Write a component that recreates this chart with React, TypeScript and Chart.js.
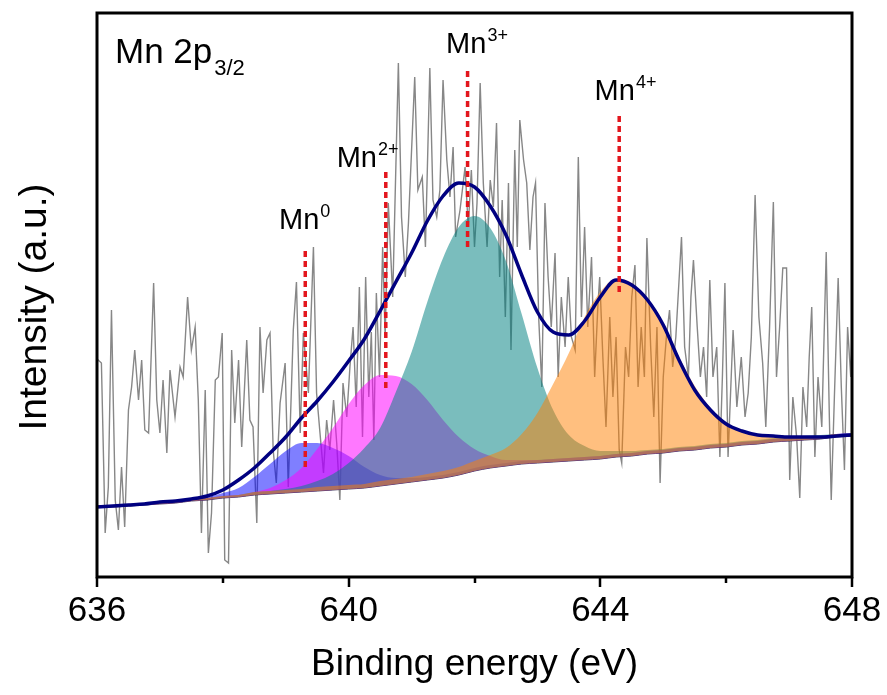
import React, { useEffect, useRef } from 'react';
import { Chart, registerables } from 'chart.js';

Chart.register(...registerables);

const FONT = '"Liberation Sans", Arial, Helvetica, sans-serif';

// Energy grid (eV) on which the fitted curves were read
const energyGrid = [
  636, 636.25, 636.5, 636.75, 637, 637.25, 637.5, 637.75, 638, 638.25,
  638.5, 638.75, 639, 639.25, 639.5, 639.75, 640, 640.25, 640.5, 640.75,
  641, 641.25, 641.5, 641.75, 642, 642.25, 642.5, 642.75, 643, 643.25,
  643.5, 643.75, 644, 644.25, 644.5, 644.75, 645, 645.25, 645.5, 645.75,
  646, 646.25, 646.5, 646.75, 647, 647.25, 647.5, 647.75, 648,
];

// Shirley-type background
const background = [
  70, 70, 71, 72, 73, 74, 76, 77, 79, 80,
  82, 83, 84, 85, 86, 87, 88, 89, 91, 93,
  95, 97, 99, 102, 106, 109, 111, 113, 114, 115,
  116, 117, 118, 120, 121, 123, 124, 126, 127, 129,
  130, 132, 133, 135, 136, 137, 138, 140, 141,
];

// Fitted components (top edge, background included)
const peakMn0 = [
  72, 72, 73, 74, 75, 76, 78, 80, 84, 89,
  100, 113, 126, 134, 134, 129, 121, 110, 102, 99,
  99, 100, 102, 105, 109, 112, 114, 116, 117, 118,
  119, 120, 121, 123, 124, 126, 127, 129, 130, 132,
  133, 135, 136, 138, 139, 140, 141, 143, 144,
];
const peakMn2 = [
  72, 72, 73, 74, 75, 76, 78, 79, 81, 82,
  85, 89, 97, 109, 128, 149, 173, 192, 202, 201,
  193, 177, 157, 140, 128, 121, 117, 117, 117, 118,
  119, 120, 121, 123, 124, 126, 127, 129, 130, 132,
  133, 135, 136, 138, 139, 140, 141, 143, 144,
];
const peakMn3 = [
  72, 72, 73, 74, 75, 76, 78, 79, 81, 82,
  85, 86, 88, 91, 96, 103, 114, 129, 149, 185,
  225, 275, 319, 350, 361, 349, 316, 263, 209, 167,
  142, 131, 126, 126, 126, 127, 128, 130, 131, 133,
  134, 136, 137, 139, 140, 141, 142, 143, 144,
];
const peakMn4 = [
  72, 72, 73, 74, 75, 76, 78, 79, 81, 82,
  85, 86, 87, 88, 90, 91, 92, 93, 96, 98,
  100, 103, 106, 110, 116, 122, 129, 143, 164, 193,
  224, 260, 285, 298, 294, 276, 250, 220, 191, 169,
  154, 147, 143, 142, 141, 141, 141, 143, 143,
];

// Envelope (sum of fits)
const envelope = [
  70, 71, 72, 73, 75, 76, 78, 81, 87, 97,
  109, 124, 140, 159, 176, 195, 216, 238, 266, 295,
  324, 356, 381, 394, 390, 371, 342, 302, 265, 245,
  242, 256, 280, 297, 292, 277, 252, 217, 187, 167,
  153, 146, 142, 141, 140, 140, 140, 141, 142,
];

// Raw (noisy) spectrum
const rawEnergy = [
  636.0, 636.02, 636.07, 636.13, 636.18, 636.23, 636.29, 636.34, 636.39, 636.44,
  636.5, 636.55, 636.6, 636.66, 636.71, 636.76, 636.82, 636.9, 636.95, 637.0,
  637.05, 637.11, 637.16, 637.24, 637.32, 637.37, 637.44, 637.5, 637.56, 637.61,
  637.66, 637.72, 637.77, 637.82, 637.88, 637.93, 637.99, 638.03, 638.09, 638.14,
  638.19, 638.25, 638.3, 638.38, 638.43, 638.48, 638.54, 638.59, 638.64, 638.7,
  638.75, 638.8, 638.85, 638.91, 638.99, 639.04, 639.12, 639.17, 639.23, 639.28,
  639.36, 639.44, 639.49, 639.54, 639.6, 639.65, 639.7, 639.76, 639.81, 639.86,
  639.91, 639.97, 640.02, 640.07, 640.12, 640.17, 640.22, 640.27, 640.32, 640.36,
  640.4, 640.44, 640.49, 640.54, 640.58, 640.63, 640.7, 640.79, 640.84, 640.9,
  640.95, 641.05, 641.1, 641.17, 641.22, 641.29, 641.34, 641.4, 641.45, 641.5,
  641.56, 641.61, 641.66, 641.7, 641.77, 641.85, 641.9, 641.95, 642.0, 642.04,
  642.09, 642.14, 642.2, 642.25, 642.3, 642.35, 642.4, 642.44, 642.49, 642.54,
  642.58, 642.64, 642.68, 642.72, 642.78, 642.83, 642.88, 642.93, 642.97, 643.02,
  643.07, 643.12, 643.17, 643.22, 643.28, 643.33, 643.38, 643.44, 643.49, 643.54,
  643.6, 643.65, 643.7, 643.75, 643.8, 643.86, 643.91, 643.96, 643.99, 644.04,
  644.09, 644.15, 644.2, 644.25, 644.3, 644.34, 644.4, 644.45, 644.5, 644.55,
  644.6, 644.65, 644.7, 644.74, 644.8, 644.85, 644.9, 644.95, 645.0, 645.05,
  645.1, 645.15, 645.2, 645.29, 645.34, 645.4, 645.44, 645.48, 645.54, 645.59,
  645.64, 645.69, 645.74, 645.79, 645.85, 645.9, 645.94, 645.98, 646.03, 646.08,
  646.11, 646.17, 646.24, 646.3, 646.35, 646.4, 646.46, 646.52, 646.58, 646.63,
  646.69, 646.75, 646.8, 646.85, 646.9, 646.96, 647.01, 647.06, 647.12, 647.17,
  647.22, 647.28, 647.32, 647.36, 647.41, 647.46, 647.52, 647.59, 647.64, 647.67,
  647.72, 647.78, 647.83, 647.88, 647.93, 647.98, 648.0,
];
const rawIntensity = [
  215, 217, 214, 44, 90, 267, 77, 47, 110, 50,
  167, 190, 227, 177, 217, 147, 144, 294, 177, 144,
  197, 124, 207, 160, 210, 200, 280, 227, 250, 177,
  44, 187, 24, 64, 197, 200, 244, 17, 14, 227,
  154, 217, 130, 237, 157, 150, 54, 250, 184, 237,
  244, 127, 94, 174, 214, 90, 247, 295, 144, 244,
  184, 330, 184, 147, 104, 157, 127, 177, 134, 77,
  194, 160, 210, 250, 170, 290, 140, 300, 180, 245,
  137, 284, 200, 330, 240, 374, 280, 514, 360, 300,
  354, 500, 387, 400, 330, 509, 377, 360, 387, 497,
  417, 380, 430, 340, 367, 410, 350, 407, 330, 374,
  494, 394, 330, 397, 370, 454, 300, 377, 260, 394,
  227, 427, 330, 457, 417, 394, 327, 380, 394, 260,
  190, 374, 300, 250, 324, 200, 280, 230, 300, 240,
  227, 420, 260, 350, 250, 320, 200, 270, 300, 220,
  150, 260, 180, 240, 127, 114, 230, 200, 280, 312,
  190, 250, 200, 339, 230, 160, 250, 94, 200, 240,
  267, 210, 240, 340, 230, 200, 280, 317, 250, 200,
  230, 180, 297, 200, 230, 120, 200, 294, 120, 200,
  247, 170, 220, 160, 184, 240, 382, 260, 214, 150,
  250, 375, 200, 250, 309, 309, 97, 180, 140, 79,
  190, 150, 220, 270, 120, 200, 150, 325, 160, 77,
  180, 299, 190, 107, 250, 200, 244,
];

// Reference lines for the chemical states
const markerNames = ['Mn', 'Mn', 'Mn', 'Mn'];
const markerCharges = ['0', '2+', '3+', '4+'];
const markerEnergy = [639.31, 640.59, 641.89, 644.3];
const markerTop = [329, 405, 507, 461];
const markerBottom = [110, 189, 330, 285];
const labelEnergy = [639.3, 640.3, 642.04, 644.4];
const labelHeight = [348, 410, 524, 477];

const xMajorTicks = [636, 640, 644, 648];
const xMinorTicks = [638, 642, 646];

const toPoints = (xs: number[], ys: number[]) => xs.map((x, i) => ({ x, y: ys[i] }));

const decorPlugin = {
  id: 'decor',
  afterDraw(chart: any) {
    const { ctx, chartArea: a, scales } = chart;
    const xs = scales.x;
    const ys = scales.y;
    ctx.save();
    // frame
    ctx.strokeStyle = '#000';
    ctx.lineWidth = 3;
    ctx.strokeRect(a.left, a.top, a.right - a.left, a.bottom - a.top);
    // tick marks
    ctx.lineWidth = 2.5;
    xMajorTicks.forEach((v) => {
      const px = Math.round(xs.getPixelForValue(v));
      ctx.beginPath();
      ctx.moveTo(px, a.bottom);
      ctx.lineTo(px, a.bottom + 10);
      ctx.stroke();
    });
    xMinorTicks.forEach((v) => {
      const px = Math.round(xs.getPixelForValue(v));
      ctx.beginPath();
      ctx.moveTo(px, a.bottom);
      ctx.lineTo(px, a.bottom + 6);
      ctx.stroke();
    });
    // y title
    ctx.fillStyle = '#000';
    ctx.save();
    ctx.translate(35, 307);
    ctx.rotate(-Math.PI / 2);
    ctx.font = `39px ${FONT}`;
    ctx.textAlign = 'center';
    ctx.textBaseline = 'middle';
    ctx.fillText('Intensity (a.u.)', 0, 0);
    ctx.restore();
    // panel title
    ctx.textAlign = 'left';
    ctx.textBaseline = 'alphabetic';
    ctx.font = `35px ${FONT}`;
    const main = 'Mn 2p';
    const tx = a.left + 18;
    const ty = a.top + 50;
    ctx.fillText(main, tx, ty);
    const w = ctx.measureText(main).width;
    ctx.font = `22px ${FONT}`;
    ctx.fillText('3/2', tx + w + 2, ty + 12);
    // state labels
    markerNames.forEach((name, i) => {
      const cx = xs.getPixelForValue(labelEnergy[i]);
      const by = ys.getPixelForValue(labelHeight[i]);
      ctx.font = `29px ${FONT}`;
      const w1 = ctx.measureText(name).width;
      ctx.font = `18px ${FONT}`;
      const w2 = ctx.measureText(markerCharges[i]).width;
      const start = cx - (w1 + w2 + 1) / 2;
      ctx.font = `29px ${FONT}`;
      ctx.fillText(name, start, by);
      ctx.font = `18px ${FONT}`;
      ctx.fillText(markerCharges[i], start + w1 + 1, by - 12);
    });
    ctx.restore();
  },
};

export default function App() {
  const canvasRef = useRef<HTMLCanvasElement | null>(null);

  useEffect(() => {
    if (!canvasRef.current) return;
    const markerSets = markerEnergy.map((e, i) => ({
      label: `${markerNames[i]}${markerCharges[i]}`,
      data: [
        { x: e, y: markerBottom[i] },
        { x: e, y: markerTop[i] },
      ],
      borderColor: '#e3161d',
      borderWidth: 3.5,
      borderDash: [6, 4],
      pointRadius: 0,
      fill: false,
    }));
    const peakSet = (label: string, values: number[], color: string) => ({
      label,
      data: toPoints(energyGrid, values),
      borderColor: 'rgba(0,0,0,0)',
      borderWidth: 0,
      backgroundColor: color,
      pointRadius: 0,
      cubicInterpolationMode: 'monotone' as const,
      fill: 9,
    });
    const chart = new Chart(canvasRef.current, {
      type: 'line',
      data: {
        datasets: [
          ...markerSets,
          {
            label: 'Envelope',
            data: toPoints(energyGrid, envelope),
            borderColor: '#000080',
            borderWidth: 3.5,
            pointRadius: 0,
            cubicInterpolationMode: 'monotone',
            fill: false,
          },
          peakSet('Mn4+', peakMn4, 'rgba(255,128,0,0.5)'),
          peakSet('Mn3+', peakMn3, 'rgba(0,128,128,0.52)'),
          peakSet('Mn2+', peakMn2, 'rgba(255,0,255,0.53)'),
          peakSet('Mn0', peakMn0, 'rgba(0,0,255,0.5)'),
          {
            label: 'Background',
            data: toPoints(energyGrid, background),
            borderColor: 'rgba(30,20,60,0.85)',
            borderWidth: 1,
            pointRadius: 0,
            cubicInterpolationMode: 'monotone',
            fill: false,
          },
          {
            label: 'Raw',
            data: toPoints(rawEnergy, rawIntensity),
            borderColor: '#878787',
            borderWidth: 1.4,
            pointRadius: 0,
            tension: 0,
            fill: false,
          },
        ],
      },
      options: {
        animation: false,
        responsive: false,
        devicePixelRatio: 1,
        layout: { padding: { left: 0, right: 35, top: 13, bottom: 0 } },
        plugins: {
          legend: { display: false },
          tooltip: { enabled: false },
        },
        scales: {
          x: {
            type: 'linear',
            min: 636,
            max: 648,
            afterFit: (s: any) => {
              s.height = 118;
              s.paddingLeft = 0;
              s.paddingRight = 0;
            },
            grid: { display: false, drawTicks: false },
            border: { display: false },
            ticks: {
              stepSize: 2,
              autoSkip: false,
              maxRotation: 0,
              padding: 13,
              color: '#000',
              font: { family: FONT, size: 35 },
              callback: (v: any) => (xMajorTicks.includes(Number(v)) ? String(v) : ''),
            },
            title: {
              display: true,
              text: 'Binding energy (eV)',
              color: '#000',
              font: { family: FONT, size: 37 },
              padding: { top: 0, bottom: 8 },
            },
          },
          y: {
            type: 'linear',
            min: 0,
            max: 564,
            afterFit: (s: any) => {
              s.width = 97;
            },
            ticks: { display: false },
            grid: { display: false },
            border: { display: false },
          },
        },
      },
      plugins: [decorPlugin],
    });
    return () => chart.destroy();
  }, []);

  return (
    <div style={{ position: 'absolute', left: 0, top: 0, width: 887, height: 695, background: '#fff' }}>
      <canvas ref={canvasRef} width={887} height={695} />
    </div>
  );
}
